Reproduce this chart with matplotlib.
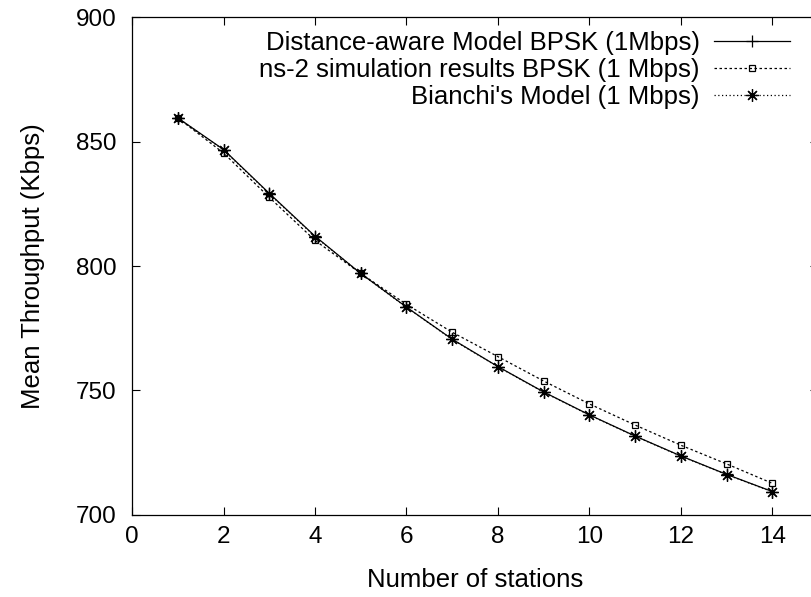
import numpy as np
import matplotlib
matplotlib.use("Agg")
import matplotlib.pyplot as plt

plt.rcParams['font.family'] = ['Liberation Sans', 'DejaVu Sans']

# number of contending stations
stations = np.arange(1, 15)

# mean throughput in Kbps
distance_aware = [859.5, 846.8, 829.2, 812.0, 797.0, 783.5, 770.6, 759.6,
                  749.4, 740.2, 731.7, 723.7, 716.3, 709.4]
ns2_sim = [859.5, 845.4, 827.6, 810.3, 797.0, 784.6, 773.4, 763.6,
           753.8, 744.6, 736.1, 728.0, 720.5, 712.7]
bianchi = [859.5, 846.6, 829.0, 811.8, 797.0, 783.4, 770.5, 759.5,
           749.3, 740.1, 731.6, 723.6, 716.2, 709.3]

labels = ["Distance-aware Model BPSK (1Mbps)",
          "ns-2 simulation results BPSK (1 Mbps)",
          "Bianchi's Model (1 Mbps)"]

fig = plt.figure(figsize=(8.11, 5.97), dpi=100)
# right end of the x range runs past the canvas edge
ax = fig.add_axes([0.1628, 0.1374, 0.846, 0.834])

fs = 18.5
tfs = 17.5
asterisk = (8, 2, 0)  # plus and cross overlaid
ax.plot(stations, distance_aware, color='black', lw=0.9, ls='-',
        marker='+', ms=9, mew=0.9, label=labels[0], zorder=3)
ax.plot(stations, ns2_sim, color='black', lw=0.9, ls=(0, (2.0, 2.0)),
        marker='s', ms=4, mew=0.9, mfc='none', label=labels[1], zorder=2)
ax.plot(stations, bianchi, color='black', lw=0.9, ls=(0, (1.0, 2.0)),
        marker=asterisk, ms=9, mew=0.9, label=labels[2], zorder=2)

ax.set_xlim(0, 15)
ax.set_ylim(700, 900)
ax.set_xticks(np.arange(0, 15, 2))
ax.set_yticks(np.arange(700, 901, 50))
ax.tick_params(axis='both', direction='in', length=6, width=0.8, top=True,
               right=True, labelsize=tfs)
ax.tick_params(axis='y', pad=11)
ax.tick_params(axis='x', pad=8)
for s in ax.spines.values():
    s.set_linewidth(0.9)

ax.set_xlabel("Number of stations", fontsize=fs, labelpad=14)
ax.set_ylabel("Mean Throughput (Kbps)", fontsize=fs, labelpad=22)

ax.legend(loc='upper right', bbox_to_anchor=(0.959, 0.972), frameon=False,
          markerfirst=False, fontsize=fs, handlelength=2.96,
          handletextpad=0.55, labelspacing=0.12, borderpad=0,
          borderaxespad=0)

fig.savefig("out.png", dpi=100)
